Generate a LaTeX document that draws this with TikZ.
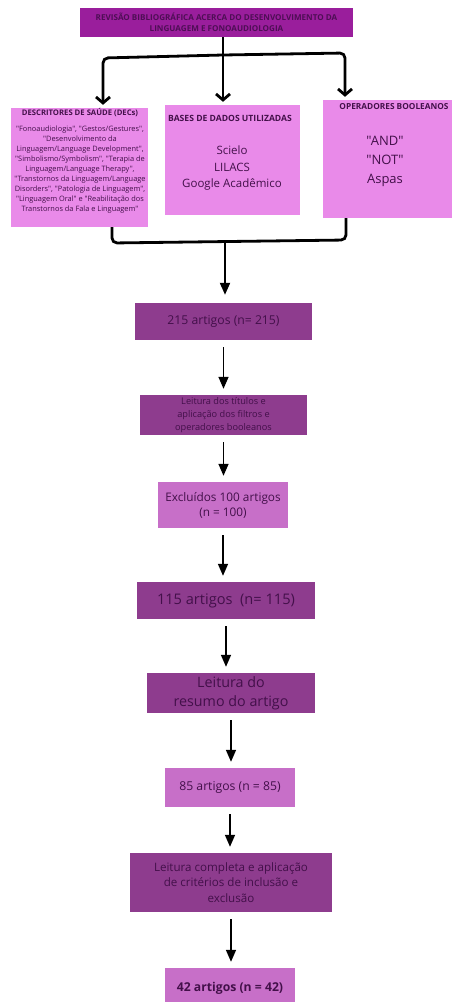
\documentclass[tikz,border=0pt]{standalone}
\usepackage{fontspec}
\setmainfont{Open Sans}[Ligatures=TeXOff]
\usetikzlibrary{arrows.meta}
\usetikzlibrary{positioning}
\tikzset{caixa/.style = {inner sep = 0, align = center}}
\tikzset{rotulo/.style = {inner sep = 0, align = center, text = mtext}}
\tikzset{seta/.style = {-{Triangle[length=12pt, width=10pt]}, line width=1.5pt,
                        shorten <= 7pt, shorten >= 6pt}}
\tikzset{ramo/.style = {line width=2.8pt, rounded corners=5pt}}
\tikzset{pontatopo/.style = {-{Straight Barb[length=6pt, width=14pt]}, shorten >= 3pt}}
\definecolor{mtitle}{HTML}{9A1E9C}
\definecolor{mtitletxt}{HTML}{4E0E55}
\definecolor{mpink}{HTML}{E98AE9}
\definecolor{mdark}{HTML}{8E3C8E}
\definecolor{mlight}{HTML}{C76FC8}
\definecolor{mtext}{HTML}{43104A}

\begin{document}
\begin{tikzpicture}[x=1pt, y=-1pt]
      \useasboundingbox (0,0) rectangle (451,1002);

      % titulo
      \node [caixa, fill=mtitle, minimum width=273, minimum height=29] (titulo) at (216.5,22.5) {};
      \node [rotulo, text=mtitletxt, font=\bfseries\fontsize{8.1}{11}\selectfont] (titulotxt) at (titulo) {REVISÃO BIBLIOGRÁFICA ACERCA DO DESENVOLVIMENTO DA\\LINGUAGEM E FONOAUDIOLOGIA};

      % tres caixas de cima
      \node [caixa, fill=mpink, minimum width=137, minimum height=119] (decs) at (79.5,167.5) {};
      \node [rotulo, font=\bfseries\fontsize{7.7}{9}\selectfont] (decstit) at (80,113) {DESCRITORES DE SAÚDE (DECs)};
      \node [rotulo, font=\fontsize{7.4}{10.1}\selectfont] (decstxt) at (80,169.5) {"Fonoaudiologia", "Gestos/Gestures",\\"Desenvolvimento da\\Linguagem/Language Development",\\"Simbolismo/Symbolism", "Terapia de\\Linguagem/Language Therapy",\\"Transtornos da Linguagem/Language\\Disorders", "Patologia de Linguagem",\\"Linguagem Oral" e "Reabilitação dos\\Transtornos da Fala e Linguagem"};

      \node [caixa, fill=mpink, minimum width=135, minimum height=110] (bases) at (232.5,160) {};
      \node [rotulo, font=\bfseries\fontsize{8.6}{9}\selectfont] (basestit) at (230,118) {BASES DE DADOS UTILIZADAS};
      \node [rotulo, font=\fontsize{11.5}{16.5}\selectfont] (basestxt) at (232,168.5) {Scielo\\LILACS\\Google Acadêmico};

      \node [caixa, fill=mpink, minimum width=129, minimum height=118] (opers) at (387.5,159) {};
      \node [rotulo, font=\bfseries\fontsize{8.3}{9}\selectfont] (operstit) at (394,107) {OPERADORES BOOLEANOS};
      \node [rotulo, font=\fontsize{13}{19}\selectfont] (operstxt) at (385,161) {"AND"\\"NOT"\\Aspas};

      % ramos do topo
      \coordinate (bifurca) at (223,55);
      \coordinate (esq) at (103,58);
      \coordinate (dir) at (345,53);
      \draw [ramo, pontatopo] (titulo.south -| bifurca) -- (bifurca |- bases.north);
      \draw [ramo, pontatopo] (bifurca) -- (esq) -- (esq |- decs.north);
      \draw [ramo, pontatopo] (bifurca) -- (dir) -- (dir |- opers.north);

      % juncao
      \coordinate (jesq) at (112,243);
      \coordinate (jdir) at (346,240);
      \coordinate (junta) at (225,242);
      \draw [ramo] (decs.south -| jesq) -- (jesq) -- (jdir) -- (opers.south -| jdir);

      % coluna de baixo
      \node [caixa, fill=mdark, text=mtext, minimum width=177, minimum height=37,
             font=\fontsize{12.2}{13}\selectfont] (a215) at (223.5,321.5) {215 artigos (n= 215)};
      \node [caixa, fill=mdark, text=mtext, minimum width=167, minimum height=40,
             font=\fontsize{9.2}{13}\selectfont] (titulos) at (223.5,415) {Leitura dos títulos e\\aplicação dos filtros e\\operadores booleanos};
      \node [caixa, fill=mlight, text=mtext, minimum width=130, minimum height=46,
             font=\fontsize{11.8}{15}\selectfont] (excl) at (223,505) {Excluídos 100 artigos\\(n = 100)};
      \node [caixa, fill=mdark, text=mtext, minimum width=178, minimum height=37,
             font=\fontsize{14.6}{15}\selectfont] (a115) at (226,600.5) {115 artigos~ (n= 115)};
      \node [caixa, fill=mdark, text=mtext, minimum width=168, minimum height=40,
             font=\fontsize{14.3}{19}\selectfont] (resumo) at (231,693) {Leitura do\\resumo do artigo};
      \node [caixa, fill=mlight, text=mtext, minimum width=130, minimum height=39,
             font=\fontsize{12.2}{13}\selectfont] (a85) at (230,787.5) {85 artigos (n = 85)};
      \node [caixa, fill=mdark, text=mtext, minimum width=202, minimum height=59,
             font=\fontsize{11.6}{15.5}\selectfont] (completa) at (231,882.5) {Leitura completa e aplicação\\de critérios de inclusão e\\exclusão};
      \node [caixa, fill=mlight, minimum width=130, minimum height=44] (a42) at (230,990) {};
      \node [rotulo, font=\bfseries\fontsize{12.2}{13}\selectfont] (a42txt) at (230,988) {42 artigos (n = 42)};

      \draw [seta, line width=2pt, shorten <= 0pt, shorten >= 8pt] (junta) -- (junta |- a215.north);
      \draw [seta] (a215.south) -- (a215.south |- titulos.north);
      \draw [seta] (titulos.south) -- (titulos.south |- excl.north);
      \draw [seta] (excl.south) -- (excl.south |- a115.north);
      \draw [seta] (a115.south) -- (a115.south |- resumo.north);
      \draw [seta] (resumo.south) -- (resumo.south |- a85.north);
      \draw [seta] (a85.south) -- (a85.south |- completa.north);
      \draw [seta] (completa.south) -- (completa.south |- a42.north);
    \end{tikzpicture}
\end{document}
